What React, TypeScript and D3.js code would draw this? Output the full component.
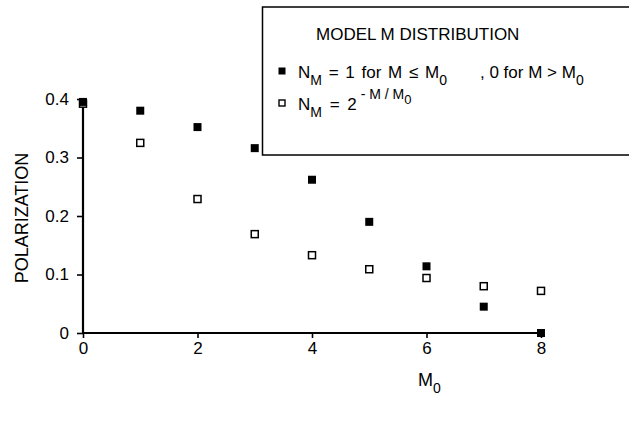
import { useEffect, useRef } from "react";
import * as d3 from "d3";

const m0Values = [0, 1, 2, 3, 4, 5, 6, 7, 8];
const stepPolarization = [0.395, 0.38, 0.352, 0.316, 0.262, 0.19, 0.114, 0.045, 0.0];
const expPolarization = [0.392, 0.325, 0.229, 0.169, 0.133, 0.109, 0.094, 0.08, 0.072];
const xTicks = [0, 2, 4, 6, 8];
const yTicks = [0, 0.1, 0.2, 0.3, 0.4];

const App = () => {
  const svgRef = useRef<SVGSVGElement>(null);

  useEffect(() => {
    const w = 629;
    const h = 428;
    const svg = d3.select(svgRef.current).attr("width", w).attr("height", h);
    svg.selectAll("*").remove();
    const font = "'Liberation Sans', Arial, sans-serif";

    // scales
    const x = d3.scaleLinear().domain([0, 8]).range([83, 541]);
    const y = d3.scaleLinear().domain([0, 0.4]).range([333, 99]);

    // axes
    const xAxis = d3.axisBottom(x).tickValues(xTicks).tickSize(5).tickPadding(4).tickFormat(d3.format("d"));
    const yAxis = d3
      .axisLeft(y)
      .tickValues(yTicks)
      .tickSize(6)
      .tickPadding(8)
      .tickFormat((d) => (d === 0 ? "0" : d3.format(".1f")(d as number)));

    const gx = svg.append("g").attr("transform", `translate(0,${y(0)})`).call(xAxis);
    const gy = svg.append("g").attr("transform", `translate(${x(0)},0)`).call(yAxis);
    [gx, gy].forEach((g) => {
      g.select(".domain").attr("stroke", "#000").attr("stroke-width", 2.2);
      g.selectAll(".tick line").attr("stroke", "#000").attr("stroke-width", 1.6);
      g.selectAll(".tick text").attr("fill", "#000").style("font-family", font).style("font-size", "17px");
    });
    gx.select(".domain").attr("d", `M${x(0)},0H${x(8)}`);
    gy.select(".domain").attr("d", `M0,${y(0)}V${y(0.4)}`);

    // axis titles
    svg
      .append("text")
      .attr("transform", `translate(28,${(y(0) + y(0.4)) / 2 + 2}) rotate(-90)`)
      .attr("text-anchor", "middle")
      .style("font-family", font)
      .style("font-size", "18px")
      .text("POLARIZATION");

    const xt = svg
      .append("text")
      .attr("x", 418)
      .attr("y", 386)
      .style("font-family", font)
      .style("font-size", "18px");
    xt.append("tspan").text("M");
    xt.append("tspan").attr("dy", 7).style("font-size", "14px").text("0");

    // points
    const size = 7;
    svg
      .selectAll(".exp")
      .data(m0Values)
      .join("rect")
      .attr("class", "exp")
      .attr("x", (d) => x(d) - size / 2)
      .attr("y", (d, i) => y(expPolarization[i]) - size / 2)
      .attr("width", size)
      .attr("height", size)
      .attr("fill", "#fff")
      .attr("stroke", "#000")
      .attr("stroke-width", 1.5);

    svg
      .selectAll(".step")
      .data(m0Values)
      .join("rect")
      .attr("class", "step")
      .attr("x", (d) => x(d) - (size + 1) / 2)
      .attr("y", (d, i) => y(stepPolarization[i]) - (size + 1) / 2)
      .attr("width", size + 1)
      .attr("height", size + 1)
      .attr("fill", "#000");

    // legend
    const lg = svg.append("g").style("font-family", font);
    lg.append("rect")
      .attr("x", 262.5)
      .attr("y", 7)
      .attr("width", 400)
      .attr("height", 148)
      .attr("fill", "#fff")
      .attr("stroke", "#000")
      .attr("stroke-width", 1.5);

    lg.append("text").attr("x", 316).attr("y", 40).style("font-size", "17px").text("MODEL M DISTRIBUTION");

    lg.append("rect").attr("x", 278.5).attr("y", 67.5).attr("width", 7).attr("height", 7).attr("fill", "#000");
    const r1 = lg.append("text").attr("x", 298).attr("y", 78).style("font-size", "17px");
    r1.append("tspan").text("N");
    r1.append("tspan").attr("dy", 7).style("font-size", "14px").text("M");
    r1.append("tspan").attr("dy", -7).style("word-spacing", "2px").text(" = 1 for M \u2264 M");
    r1.append("tspan").attr("dy", 7).style("font-size", "14px").text("0");
    const r1b = lg.append("text").attr("x", 480).attr("y", 78).style("font-size", "17px");
    r1b.append("tspan").text(", 0 for M > M");
    r1b.append("tspan").attr("dy", 7).style("font-size", "14px").text("0");

    lg.append("rect")
      .attr("x", 279)
      .attr("y", 100)
      .attr("width", 6)
      .attr("height", 6)
      .attr("fill", "#fff")
      .attr("stroke", "#000")
      .attr("stroke-width", 1.4);
    const r2 = lg.append("text").attr("x", 298).attr("y", 110).style("font-size", "17px");
    r2.append("tspan").text("N");
    r2.append("tspan").attr("dy", 7).style("font-size", "14px").text("M");
    r2.append("tspan").attr("dy", -7).style("word-spacing", "3px").text(" = 2");
    r2.append("tspan").attr("dy", -11).style("font-size", "14px").text(" - M / M");
    r2.append("tspan").attr("dy", 5).style("font-size", "13px").text("0");
  }, []);

  return (
    <div style={{ position: "absolute", left: 0, top: 0 }}>
      <svg ref={svgRef} style={{ display: "block", background: "#fff" }}></svg>
    </div>
  );
};

export default App;
